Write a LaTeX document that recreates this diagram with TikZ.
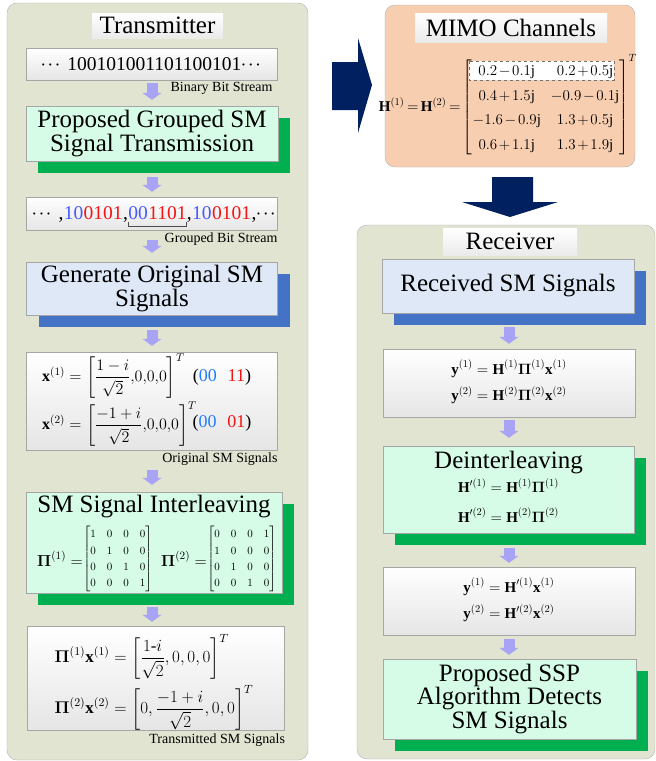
\documentclass[tikz,border=0pt]{standalone}
\usepackage{fix-cm}
\usepackage{amsmath}
\usepackage{bm}
\usepackage{fontspec}
\setmainfont{Liberation Serif}
\usetikzlibrary{arrows.meta,positioning,shadows}

\definecolor{panelfill}{RGB}{224,228,208}
\definecolor{peach}{RGB}{248,206,176}
\definecolor{mintface}{RGB}{214,252,231}
\definecolor{blueface}{RGB}{223,232,247}
\definecolor{greenshadow}{RGB}{0,176,80}
\definecolor{blueshadow}{RGB}{68,114,196}
\definecolor{navy}{RGB}{0,32,96}
\definecolor{lavender}{RGB}{168,163,245}
\definecolor{bitblue}{RGB}{70,90,255}
\definecolor{bitred}{RGB}{245,20,20}
\definecolor{codeblue}{RGB}{30,125,255}

\tikzset{
  panel/.style={draw=black!30, fill=panelfill, rounded corners=10pt},
  titlebox/.style={top color=white, bottom color=black!8, inner sep=0pt, font=\fontsize{25}{25}\selectfont},
  eqbox/.style={draw=black!35, top color=white, bottom color=black!10, inner sep=0pt},
  greenbox/.style={draw=black!35, fill=mintface, inner sep=0pt, align=center,
    general shadow={fill=greenshadow, shadow xshift=12pt, shadow yshift=-12pt}},
  bluebox/.style={draw=black!35, fill=blueface, inner sep=0pt, align=center,
    general shadow={fill=blueshadow, shadow xshift=12pt, shadow yshift=-12pt}},
  bigtext/.style={font=\fontsize{25}{22.5}\selectfont},
  bitfont/.style={font=\fontsize{19.5}{20}\selectfont, inner sep=0pt},
  caption/.style={font=\fontsize{14}{14}\selectfont, inner sep=0pt},
  eqfont/.style={font=\fontsize{16}{19}\selectfont, inner sep=0pt},
  eqsmall/.style={font=\fontsize{15}{18}\selectfont, inner sep=0pt},
  matfont/.style={font=\fontsize{11}{13}\selectfont, inner sep=0pt},
  flow/.style={draw=lavender, line width=11pt, -{Triangle[width=19pt,length=7pt]}}
}
\newcommand{\bitdots}{{\fontsize{14}{14}\selectfont\raisebox{2pt}{$\bm{\cdots}$}}}

\begin{document}
\begin{tikzpicture}[x=1pt,y=-1pt]
\useasboundingbox (0,0) rectangle (656,761);

% Draw panels
\node[panel, minimum width=301pt, minimum height=757pt] (tx) at (157.5,381.5) {};
\node[panel, minimum width=298pt, minimum height=534pt] (rx) at (506,492) {};
\node[panel, fill=peach, minimum width=250pt, minimum height=162pt] (mimo) at (510,86) {};

% Draw titles
\node[titlebox, minimum width=131pt, minimum height=25pt] (txtitle) at (157.5,25.5) {Transmitter};
\node[titlebox, minimum width=192pt, minimum height=29pt] (mimotitle) at (511,27.5) {MIMO Channels};
\node[titlebox, minimum width=134pt, minimum height=27pt] (rxtitle) at (510,241.5) {Receiver};

% Transmitter side
\node[eqbox, bitfont, minimum width=251pt, minimum height=32pt] (bits) at (152,64)
  {\bitdots\ 100101001101100101\bitdots};
\node[caption, anchor=north east] (binlbl) at ([xshift=-5pt,yshift=-2pt]bits.south east) {Binary Bit Stream};

\node[greenbox, bigtext, minimum width=252pt, minimum height=55pt] (sm) at (152,133.5)
  {Proposed Grouped SM\\Signal Transmission};

\node[eqbox, minimum width=251pt, minimum height=33pt] (grp) at (152,213.5) {};
\node[bitfont, anchor=base west] (g1) at (32,219) {\bitdots\ ,};
\node[bitfont, anchor=base west, text=bitblue] (g2) at (g1.base east) {10};
\node[bitfont, anchor=base west, text=bitred] (g3) at (g2.base east) {0101};
\node[bitfont, anchor=base west] (g4) at (g3.base east) {,};
\node[bitfont, anchor=base west, text=bitblue] (g5) at (g4.base east) {00};
\node[bitfont, anchor=base west, text=bitred] (g6) at (g5.base east) {1101};
\node[bitfont, anchor=base west] (g7) at (g6.base east) {,};
\node[bitfont, anchor=base west, text=bitblue] (g8) at (g7.base east) {10};
\node[bitfont, anchor=base west, text=bitred] (g9) at (g8.base east) {0101};
\node[bitfont, anchor=base west] (g10) at (g9.base east) {,\bitdots};
\draw[black!70, line width=0.8pt] ([yshift=-3pt]g5.base west) -- ++(0,4) -| ([yshift=-3pt]g6.base east);
\node[caption, anchor=north east] (grplbl) at ([yshift=-2pt]grp.south east) {Grouped Bit Stream};

\node[bluebox, bigtext, minimum width=251pt, minimum height=53pt] (gen) at (152,288.5)
  {Generate Original SM\\Signals};

\node[eqbox, minimum width=251pt, minimum height=98pt] (xbox) at (152,401) {};
\node[eqfont, anchor=west] (x1) at (42,376) {$\mathbf{x}^{(1)}=\left[\dfrac{1-i}{\sqrt{2}}{,}0{,}0{,}0\right]^T$};
\node[eqfont, anchor=west] (x2) at (42,424) {$\mathbf{x}^{(2)}=\left[\dfrac{-1+i}{\sqrt{2}}{,}0{,}0{,}0\right]^T$};
\node[bitfont, font=\fontsize{18}{18}\selectfont] (c1) at (222,377)
  {(\textcolor{codeblue}{00}\hspace{0.6em}\textcolor{bitred}{11})};
\node[bitfont, font=\fontsize{18}{18}\selectfont] (c2) at (222,423)
  {(\textcolor{codeblue}{00}\hspace{0.6em}\textcolor{bitred}{01})};
\node[caption, anchor=north east] (xlbl) at ([yshift=-2pt]xbox.south east) {Original SM Signals};

\node[greenbox, minimum width=256pt, minimum height=101pt] (inter) at (154,542.5) {};
\node[bigtext] (intertitle) at (154,507) {SM Signal Interleaving};
\node[eqfont] (pi1) at (60,559) {$\bm{\Pi}^{(1)}=$};
\node[matfont, right=0pt of pi1] (pimat1) {\setlength\arraycolsep{5.5pt}\renewcommand\arraystretch{1.25}%
  $\left[\begin{matrix}1&0&0&0\\0&1&0&0\\0&0&1&0\\0&0&0&1\end{matrix}\right]$};
\node[eqfont] (pi2) at (184,559) {$\bm{\Pi}^{(2)}=$};
\node[matfont, right=0pt of pi2] (pimat2) {\setlength\arraycolsep{5.5pt}\renewcommand\arraystretch{1.25}%
  $\left[\begin{matrix}0&0&0&1\\1&0&0&0\\0&1&0&0\\0&0&1&0\end{matrix}\right]$};

\node[eqbox, minimum width=257pt, minimum height=104pt] (txsig) at (155.5,678) {};
\node[eqfont, font=\fontsize{17}{20}\selectfont] (txeq) at (154,682) {$\begin{aligned}
  \bm{\Pi}^{(1)}\mathbf{x}^{(1)} &= \left[\dfrac{1\text{-}i}{\sqrt{2}},0,0,0\right]^T\\[2pt]
  \bm{\Pi}^{(2)}\mathbf{x}^{(2)} &= \left[0,\dfrac{-1+i}{\sqrt{2}},0,0\right]^T
  \end{aligned}$};
\node[caption, anchor=north east] (txlbl) at ([xshift=1pt,yshift=-3pt]txsig.south east) {Transmitted SM Signals};

% Transmitter arrows
\draw[flow, shorten <=3pt, shorten >=6pt] (bits.south) -- (bits.south |- sm.north);
\draw[flow, shorten <=16pt, shorten >=5pt] (sm.south) -- (sm.south |- grp.north);
\draw[flow, shorten <=10pt, shorten >=9pt] (grp.south) -- (grp.south |- gen.north);
\draw[flow, shorten <=15pt, shorten >=6pt] (gen.south) -- (gen.south |- xbox.north);
\draw[flow, shorten <=20pt, shorten >=7pt] (xbox.south) -- (xbox.south |- inter.north);
\draw[flow, shorten <=14pt, shorten >=4pt] (xbox.south |- inter.south) -- (xbox.south |- txsig.north);

% MIMO channels
\draw[dashed, draw=black!55, fill=white] (469,61) rectangle (614,80);
\node[eqsmall] (hmat) at (508,106) {\renewcommand\arraystretch{1.38}\medmuskip=2mu\thickmuskip=3mu%
  $\mathbf{H}^{(1)}=\mathbf{H}^{(2)}=\left[\begin{matrix}
  0.2-0.1\mathrm{j} & 0.2+0.5\mathrm{j}\\
  0.4+1.5\mathrm{j} & -0.9-0.1\mathrm{j}\\
  -1.6-0.9\mathrm{j} & 1.3+0.5\mathrm{j}\\
  0.6+1.1\mathrm{j} & 1.3+1.9\mathrm{j}
  \end{matrix}\right]^T$};

% Big arrows
\fill[navy] (332,62) -- (358,62) -- (358,38) -- (372,85) -- (358,133) -- (358,110) -- (332,110) -- cycle;
\fill[navy] (492,177) -- (533,177) -- (533,202) -- (558,202) -- (510,217) -- (462,202) -- (492,202) -- cycle;

% Receiver side
\node[bluebox, bigtext, minimum width=252pt, minimum height=54pt] (rcv) at (508,286) {Received SM Signals};

\node[eqbox, eqsmall, minimum width=252pt, minimum height=68pt] (ybox) at (509,383) {$\begin{aligned}
  \mathbf{y}^{(1)} &= \mathbf{H}^{(1)}\bm{\Pi}^{(1)}\mathbf{x}^{(1)}\\[3pt]
  \mathbf{y}^{(2)} &= \mathbf{H}^{(2)}\bm{\Pi}^{(2)}\mathbf{x}^{(2)}
  \end{aligned}$};

\node[greenbox, minimum width=251pt, minimum height=87pt] (deint) at (508.5,489.5) {};
\node[bigtext] (deinttitle) at (508.5,463) {Deinterleaving};
\node[eqsmall] (deinteq) at (508.5,503) {$\begin{aligned}
  \mathbf{H}'^{(1)} &= \mathbf{H}^{(1)}\bm{\Pi}^{(1)}\\[6pt]
  \mathbf{H}'^{(2)} &= \mathbf{H}^{(2)}\bm{\Pi}^{(2)}
  \end{aligned}$};

\node[eqbox, eqsmall, minimum width=252pt, minimum height=68pt] (ybox2) at (509,601) {$\begin{aligned}
  \mathbf{y}^{(1)} &= \mathbf{H}'^{(1)}\mathbf{x}^{(1)}\\[3pt]
  \mathbf{y}^{(2)} &= \mathbf{H}'^{(2)}\mathbf{x}^{(2)}
  \end{aligned}$};

\node[greenbox, bigtext, minimum width=253pt, minimum height=80pt] (ssp) at (509.5,699)
  {Proposed SSP\\Algorithm Detects\\SM Signals};

% Receiver arrows
\draw[flow, shorten <=14pt, shorten >=5pt] (ybox.north |- rcv.south) -- (ybox.north);
\draw[flow, shorten <=3pt, shorten >=8pt] (ybox.south) -- (ybox.south |- deint.north);
\draw[flow, shorten <=15pt, shorten >=4pt] (ybox2.north |- deint.south) -- (ybox2.north);
\draw[flow, shorten <=4pt, shorten >=4pt] (ybox2.south) -- (ybox2.south |- ssp.north);
\end{tikzpicture}
\end{document}
